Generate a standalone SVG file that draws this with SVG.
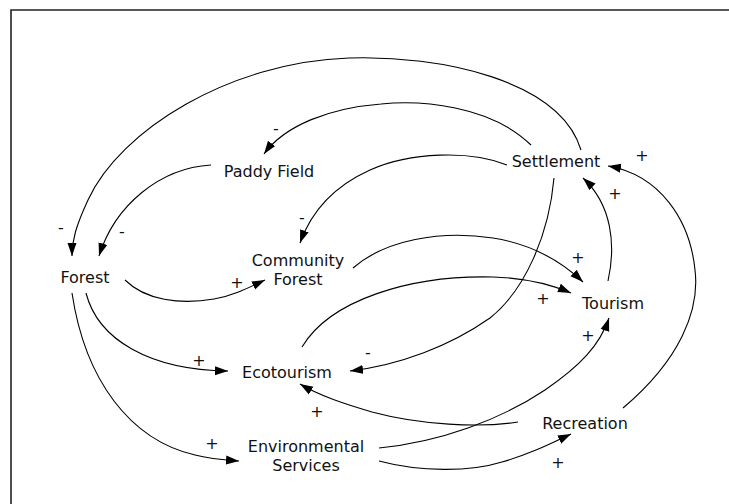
<svg xmlns="http://www.w3.org/2000/svg" width="729" height="504" viewBox="0 0 729 504">
<defs>
<marker id="ah" markerUnits="userSpaceOnUse" markerWidth="13" markerHeight="10" refX="13" refY="5" orient="auto">
<path d="M0,0.5 L13,5 L0,9.5 z" fill="#000"/>
</marker>
<style>
.lbl{font-family:"DejaVu Sans","Liberation Sans",sans-serif;font-size:16px;fill:#111;text-anchor:middle}
.sgn{font-family:"DejaVu Sans","Liberation Sans",sans-serif;font-size:16px;fill:#111;text-anchor:middle}
.lk{fill:none;stroke:#000;stroke-width:1.1;marker-end:url(#ah)}
</style>
</defs>
<rect width="729" height="504" fill="#fff"/>
<path d="M11,504 V10 H729" fill="none" stroke="#222" stroke-width="1.6"/>
<g id="connectors">
<path class="lk" d="M581,150 C560,80 440,55 349,58 C230,62 120,130 88,200 C76,226 72,240 72,256"/>
<path class="lk" d="M531,145 C490,105 420,100 381,104 C330,108 285,125 264,154"/>
<path class="lk" d="M211,165 C160,168 115,205 99,256"/>
<path class="lk" d="M507,165 C470,150 410,152 370,170 C330,188 310,215 300,243"/>
<path class="lk" d="M125,280 C145,300 180,305 214,299 C235,295 250,287 265,280"/>
<path class="lk" d="M353,268 C385,240 440,230 493,238 C530,244 560,260 583,282"/>
<path class="lk" d="M302,347 C330,300 410,275 493,277 C525,278 550,284 571,293"/>
<path class="lk" d="M608,281 C616,245 612,205 583,178"/>
<path class="lk" d="M623,408 C680,360 700,310 695,270 C690,220 660,175 608,166"/>
<path class="lk" d="M554,178 C549,235 525,290 490,318 C450,346 400,365 350,371"/>
<path class="lk" d="M86,293 C98,340 150,370 228,371"/>
<path class="lk" d="M72,293 C85,380 130,440 195,455 C210,459 225,460 239,461"/>
<path class="lk" d="M518,422 C480,428 420,425 372,412 C345,404 320,396 300,384"/>
<path class="lk" d="M379,448 C440,442 500,420 545,390 C580,366 600,345 609,318"/>
<path class="lk" d="M379,461 C420,472 470,472 502,462 C530,454 550,444 571,434"/>
</g>
<g id="signs">
<text class="sgn" x="61" y="233">-</text>
<text class="sgn" x="122" y="237">-</text>
<text class="sgn" x="276" y="134">-</text>
<text class="sgn" x="302" y="223">-</text>
<text class="sgn" x="368" y="358">-</text>
<text class="sgn" x="237" y="288">+</text>
<text class="sgn" x="578" y="263">+</text>
<text class="sgn" x="543" y="304">+</text>
<text class="sgn" x="615" y="199">+</text>
<text class="sgn" x="642" y="161">+</text>
<text class="sgn" x="199" y="366">+</text>
<text class="sgn" x="212" y="449">+</text>
<text class="sgn" x="317" y="417">+</text>
<text class="sgn" x="588" y="341">+</text>
<text class="sgn" x="558" y="468">+</text>
</g>
<g id="paddy-field"><text class="lbl" x="269" y="177">Paddy Field</text></g>
<g id="settlement"><text class="lbl" x="556" y="167">Settlement</text></g>
<g id="forest"><text class="lbl" x="85" y="283">Forest</text></g>
<g id="community-forest"><text class="lbl" x="298" y="266">Community</text><text class="lbl" x="298" y="285">Forest</text></g>
<g id="tourism"><text class="lbl" x="613" y="309">Tourism</text></g>
<g id="ecotourism"><text class="lbl" x="287" y="378">Ecotourism</text></g>
<g id="recreation"><text class="lbl" x="585" y="429">Recreation</text></g>
<g id="environmental-services"><text class="lbl" x="306" y="452">Environmental</text><text class="lbl" x="306" y="471">Services</text></g>
</svg>
